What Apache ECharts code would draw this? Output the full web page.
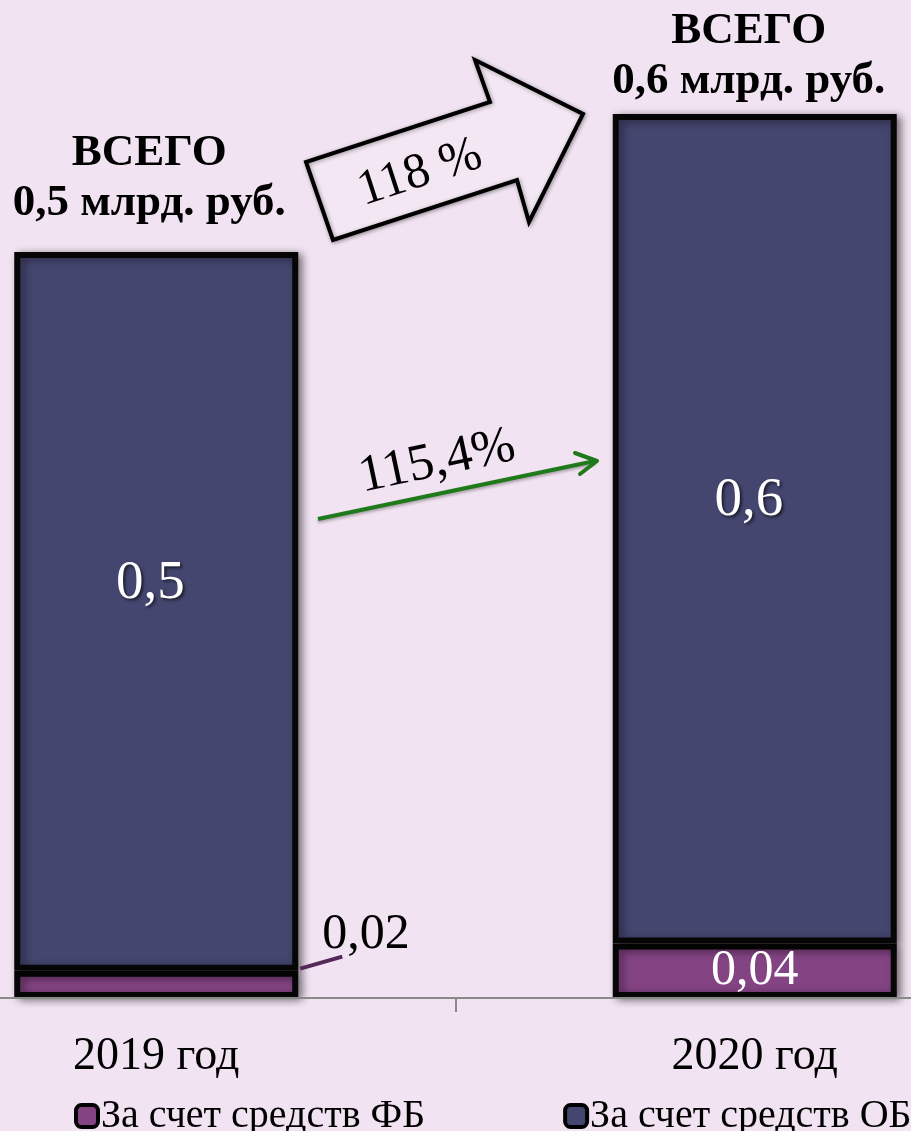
<!DOCTYPE html>
<html>
<head>
<meta charset="utf-8">
<script src="https://cdn.jsdelivr.net/npm/echarts@6/dist/echarts.min.js"></script>
<style>
html,body{margin:0;padding:0;background:#f1e3f1;}
#chart{width:911px;height:1131px;}
</style>
</head>
<body>
<div id="chart"></div>
<script>
// ---- data ----
const categories = ['2019 год', '2020 год'];
const seriesNames = ['За счет средств ФБ', 'За счет средств ОБ'];
const fbValues = [0.019, 0.038];
const obValues = [0.5, 0.577];
const totalPrefix = 'ВСЕГО';
const totalUnit = 'млрд. руб.';
const growthTotalLabel = '118 %';
const growthObLabel = '115,4%';

const totals = categories.map((c, i) => fbValues[i] + obValues[i]);
function fmt(v, d) { return v.toFixed(d).replace('.', ','); }

const serif = '"Liberation Serif", "DejaVu Serif", serif';
const BAR_W = 284;
const barStyle = (color) => ({
  color: color,
  borderColor: '#060606',
  borderWidth: 6,
  shadowColor: 'rgba(0,0,0,0.45)',
  shadowBlur: 8,
  shadowOffsetX: 4,
  shadowOffsetY: 2
});

const chart = echarts.init(document.getElementById('chart'), null, {renderer: 'canvas'});
const option = {
  backgroundColor: '#f1e3f1',
  animation: false,
  grid: {left: -143, width: 1197, top: 114, bottom: 133, containLabel: false, outerBoundsMode: 'none'},
  legend: {
    data: seriesNames,
    left: 74, top: 1096, width: 860, padding: 0,
    itemGap: 138,
    itemWidth: 22, itemHeight: 22,
    icon: 'roundRect',
    itemStyle: {borderColor: '#000', borderWidth: 4, shadowBlur: 0, shadowOffsetX: 0, shadowOffsetY: 0},
    textStyle: {fontFamily: serif, fontSize: 40, color: '#000', padding: [0, 0, 0, -2]}
  },
  xAxis: {
    type: 'category',
    data: categories,
    axisLine: {lineStyle: {color: '#8a8a8a', width: 2}},
    axisTick: {show: true, alignWithLabel: false, length: 14, lineStyle: {color: '#8a8a8a', width: 2}},
    axisLabel: {margin: 36, fontFamily: serif, fontSize: 46, color: '#000'},
    z: 5
  },
  yAxis: {
    type: 'value', min: 0, max: function (v) { return v.max; },
    show: false, splitLine: {show: false}
  },
  series: [
    {
      name: seriesNames[0], type: 'bar', stack: 'a', barWidth: BAR_W,
      data: fbValues.map((v, i) => i === 0 ? {value: v, label: {color: '#000'}} : v),
      itemStyle: barStyle('#844484'),
      label: {
        show: true, position: 'inside', offset: [0, 3],
        fontFamily: serif, fontSize: 50, color: '#fff',
        formatter: p => fmt(p.value, 2)
      },
      labelLayout: function (p) {
        if (p.dataIndex === 0) {
          return {x: p.rect.x + p.rect.width + 24, y: p.rect.y - 36, align: 'left', verticalAlign: 'middle'};
        }
        return {};
      },
      emphasis: {disabled: true}
    },
    {
      name: seriesNames[1], type: 'bar', stack: 'a', barWidth: BAR_W,
      data: obValues,
      itemStyle: barStyle('#45466f'),
      label: {
        show: true, position: 'inside', offset: [-6, -28],
        fontFamily: serif, fontSize: 55, color: '#fff',
        textShadowColor: 'rgba(0,0,0,0.6)', textShadowBlur: 3, textShadowOffsetX: 2, textShadowOffsetY: 2,
        formatter: p => fmt(p.value, 1)
      },
      emphasis: {disabled: true}
    },
    {
      name: 'total', type: 'bar', stack: 'a', barWidth: BAR_W,
      data: [
        {value: 0, label: {offset: [-7, -19]}},
        {value: 0, label: {offset: [-6, -3]}}
      ],
      itemStyle: {color: 'rgba(0,0,0,0)', borderWidth: 0},
      label: {
        show: true, position: 'top',
        fontFamily: serif, fontSize: 45, fontWeight: 'bold', color: '#000', lineHeight: 50,
        formatter: p => totalPrefix + '\n' + fmt(totals[p.dataIndex], 1) + ' ' + totalUnit
      },
      emphasis: {disabled: true}
    }
  ],
  graphic: [
    {
      type: 'polygon',
      shape: {points: [[333, 240], [306, 162], [490, 102], [475, 60], [583, 114], [529, 222], [517, 180]]},
      style: {fill: '#f3e7f3', stroke: '#000', lineWidth: 4, shadowColor: 'rgba(0,0,0,0.35)', shadowBlur: 4, shadowOffsetX: 1, shadowOffsetY: 1},
      z: 10
    },
    {
      type: 'text', x: 420, y: 173, rotation: 18 * Math.PI / 180,
      style: {text: growthTotalLabel, fontFamily: serif, fontSize: 50, fill: '#000', align: 'center', verticalAlign: 'middle'},
      z: 11
    },
    {
      type: 'line', shape: {x1: 318, y1: 519, x2: 595, y2: 461},
      style: {stroke: '#1f7a1c', lineWidth: 4, shadowColor: 'rgba(0,0,0,0.3)', shadowBlur: 3, shadowOffsetY: 2},
      z: 10
    },
    {
      type: 'polyline', shape: {points: [[575, 453], [597, 461], [580, 474]]},
      style: {stroke: '#1f7a1c', lineWidth: 4, fill: null, lineJoin: 'round', lineCap: 'round'},
      z: 10
    },
    {
      type: 'text', x: 437, y: 462, rotation: 12 * Math.PI / 180,
      style: {text: growthObLabel, fontFamily: serif, fontSize: 52, fill: '#000', align: 'center', verticalAlign: 'middle'},
      z: 11
    }
  ]
};
chart.setOption(option);

// leader line for the small 2019 FB label, positioned from the chart's own scales
const top0 = chart.convertToPixel({gridIndex: 0}, [0, fbValues[0]]);
const rightX = top0[0] + BAR_W / 2;
chart.setOption({
  graphic: [{
    id: 'leader', type: 'line',
    shape: {x1: rightX + 2, y1: top0[1] - 2, x2: rightX + 44, y2: top0[1] - 14},
    style: {stroke: '#55285a', lineWidth: 4},
    z: 12
  }]
});
</script>
</body>
</html>
